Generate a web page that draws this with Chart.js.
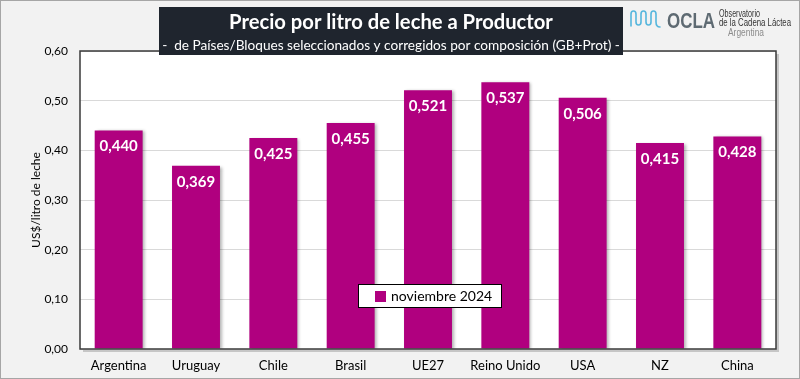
<!DOCTYPE html>
<html><head><meta charset="utf-8">
<script src="https://cdn.jsdelivr.net/npm/chart.js@4"></script>
<style>html,body{margin:0;padding:0;background:#f2f2f2;} canvas{display:block}</style>
</head><body><canvas id="c" width="800" height="379"></canvas>
<script>
const categories = ['Argentina','Uruguay','Chile','Brasil','UE27','Reino Unido','USA','NZ','China'];
const values = [0.440,0.369,0.425,0.455,0.521,0.537,0.506,0.415,0.428];
const seriesLabel = 'noviembre 2024';
const yMin = 0, yMax = 0.6, yStep = 0.1;
const titleText = 'Precio por litro de leche a Productor';
const subtitleText = '-  de Países/Bloques seleccionados y corregidos por composición (GB+Prot) -';
const yAxisTitle = 'US$/litro de leche';
const logoText = ['OCLA','Observatorio','de la Cadena Láctea','Argentina'];

const BAR = '#b0007f';
const FONT = 'Lato, "Open Sans", sans-serif';
const LOGO = '"Liberation Sans", Arial, sans-serif';
const fmt = (v, d) => v.toFixed(d).replace('.', ',');

function fitFont(ctx, text, weight, size, target) {
  ctx.font = weight + ' ' + size + 'px ' + FONT;
  const w = ctx.measureText(text).width;
  const s = Math.min(size * target / w, size * 1.3);
  ctx.font = weight + ' ' + s.toFixed(2) + 'px ' + FONT;
}
function squeezeText(ctx, text, font, x, y, targetW, align) {
  ctx.font = font;
  const w = ctx.measureText(text).width;
  const sx = targetW / w;
  ctx.save();
  ctx.textAlign = 'left';
  const x0 = align === 'center' ? x - targetW / 2 : x;
  ctx.translate(x0, y);
  ctx.scale(sx, 1);
  ctx.fillText(text, 0, 0);
  ctx.restore();
}

const decor = {
  id: 'decor',
  beforeDraw(chart) {
    const {ctx, chartArea: a, width, height} = chart;
    ctx.save();
    ctx.fillStyle = '#f2f2f2';
    ctx.fillRect(0, 0, width, height);
    ctx.strokeStyle = '#a6a6a6';
    ctx.lineWidth = 1;
    ctx.strokeRect(0.5, 0.5, width - 1, height - 1);
    ctx.fillStyle = 'rgba(0,0,0,0.18)';
    ctx.fillRect(a.left + 3, a.top + 3, a.width, a.height);
    ctx.fillStyle = '#ffffff';
    ctx.fillRect(a.left, a.top, a.width, a.height);
    ctx.restore();
  },
  beforeDatasetsDraw(chart) {
    const ctx = chart.ctx;
    ctx.save();
    ctx.shadowColor = 'rgba(0,0,0,0.3)';
    ctx.shadowOffsetX = 2;
    ctx.shadowOffsetY = 1;
    ctx.shadowBlur = 3;
  },
  afterDatasetsDraw(chart) {
    const ctx = chart.ctx;
    ctx.restore();
    const meta = chart.getDatasetMeta(0);
    ctx.save();
    ctx.fillStyle = '#ffffff';
    ctx.font = 'bold 15px ' + FONT;
    ctx.textAlign = 'center';
    ctx.textBaseline = 'middle';
    meta.data.forEach((bar, i) => {
      ctx.fillText(fmt(chart.data.datasets[0].data[i], 3), bar.x, bar.y + 16);
    });
    ctx.restore();
  },
  afterDraw(chart) {
    const {ctx, chartArea: a} = chart;
    ctx.save();
    ctx.strokeStyle = '#3a3a3a';
    ctx.lineWidth = 1.5;
    ctx.strokeRect(a.left, a.top, a.width, a.height);

    // legend inside plot
    const lx = 358, ly = 284, lw = 143, lh = 23;
    ctx.fillStyle = '#ffffff';
    ctx.fillRect(lx, ly, lw, lh);
    ctx.strokeStyle = '#000000';
    ctx.lineWidth = 1;
    ctx.strokeRect(lx + 0.5, ly + 0.5, lw, lh);
    ctx.fillStyle = chart.data.datasets[0].backgroundColor;
    ctx.fillRect(lx + 17, ly + 7, 11, 11);
    ctx.fillStyle = '#000000';
    ctx.font = '14px ' + FONT;
    ctx.textBaseline = 'middle';
    ctx.textAlign = 'left';
    ctx.fillText(chart.data.datasets[0].label, lx + 33, ly + 12);

    // title box
    ctx.fillStyle = '#1f252e';
    ctx.fillRect(159, 7, 464, 48);
    ctx.fillStyle = '#ffffff';
    ctx.textAlign = 'center';
    fitFont(ctx, titleText, 'bold', 20, 324);
    ctx.fillText(titleText, 391, 22);
    fitFont(ctx, subtitleText, 'normal', 13, 458);
    ctx.fillText(subtitleText, 391, 46);

    // logo
    ctx.strokeStyle = '#55b6dd';
    ctx.lineWidth = 1.6;
    ctx.lineJoin = 'round';
    ctx.lineCap = 'round';
    ctx.beginPath();
    ctx.moveTo(631, 26);
    ctx.lineTo(631, 14);
    ctx.quadraticCurveTo(631, 11, 633.5, 11);
    ctx.quadraticCurveTo(636, 11, 636, 14);
    ctx.lineTo(636, 22);
    ctx.quadraticCurveTo(636, 25, 638.5, 25);
    ctx.quadraticCurveTo(641, 25, 641, 22);
    ctx.lineTo(641, 14);
    ctx.quadraticCurveTo(641, 11, 643.5, 11);
    ctx.quadraticCurveTo(646, 11, 646, 14);
    ctx.lineTo(646, 22);
    ctx.quadraticCurveTo(646, 25, 648.5, 25);
    ctx.quadraticCurveTo(651, 25, 651, 22);
    ctx.lineTo(651, 14);
    ctx.quadraticCurveTo(651, 11, 653.5, 11);
    ctx.quadraticCurveTo(656, 11, 656, 14);
    ctx.lineTo(656, 22);
    ctx.quadraticCurveTo(656, 27, 660, 27);
    ctx.stroke();
    ctx.textBaseline = 'alphabetic';
    ctx.fillStyle = '#5e6a72';
    squeezeText(ctx, logoText[0], 'bold 22px ' + LOGO, 667, 28, 48, 'left');
    ctx.fillStyle = '#333333';
    squeezeText(ctx, logoText[1], '10px ' + LOGO, 719, 17, 41, 'left');
    squeezeText(ctx, logoText[2], '10px ' + LOGO, 719, 26, 72, 'left');
    ctx.fillStyle = '#8c8c8c';
    squeezeText(ctx, logoText[3], '10px ' + LOGO, 746, 36, 36, 'center');
    ctx.restore();
  }
};

new Chart(document.getElementById('c'), {
  type: 'bar',
  data: {
    labels: categories,
    datasets: [{
      label: seriesLabel,
      data: values,
      backgroundColor: BAR,
      borderWidth: 0,
      categoryPercentage: 0.62,
      barPercentage: 1.0
    }]
  },
  options: {
    responsive: false,
    animation: false,
    devicePixelRatio: 1,
    layout: { padding: { left: 0, right: 24, top: 51, bottom: 0 } },
    plugins: { legend: { display: false }, tooltip: { enabled: false } },
    scales: {
      x: {
        offset: true,
        grid: { display: false, drawTicks: false },
        border: { display: false },
        ticks: { color: '#000', font: { family: FONT, size: 13 }, padding: 9, maxRotation: 0, autoSkip: false },
        afterFit(s) { s.height = 30; }
      },
      y: {
        min: yMin, max: yMax,
        grid: { color: '#d9d9d9', drawTicks: false },
        border: { display: false },
        ticks: { stepSize: yStep, color: '#000', font: { family: FONT, size: 12 }, padding: 12,
                 callback: v => fmt(v, 2) },
        title: { display: true, text: yAxisTitle, color: '#000', font: { family: FONT, size: 12 },
                 padding: { top: 29, bottom: 0 } },
        afterFit(s) { s.width = 80; }
      }
    }
  },
  plugins: [decor]
});
</script>
</body></html>
